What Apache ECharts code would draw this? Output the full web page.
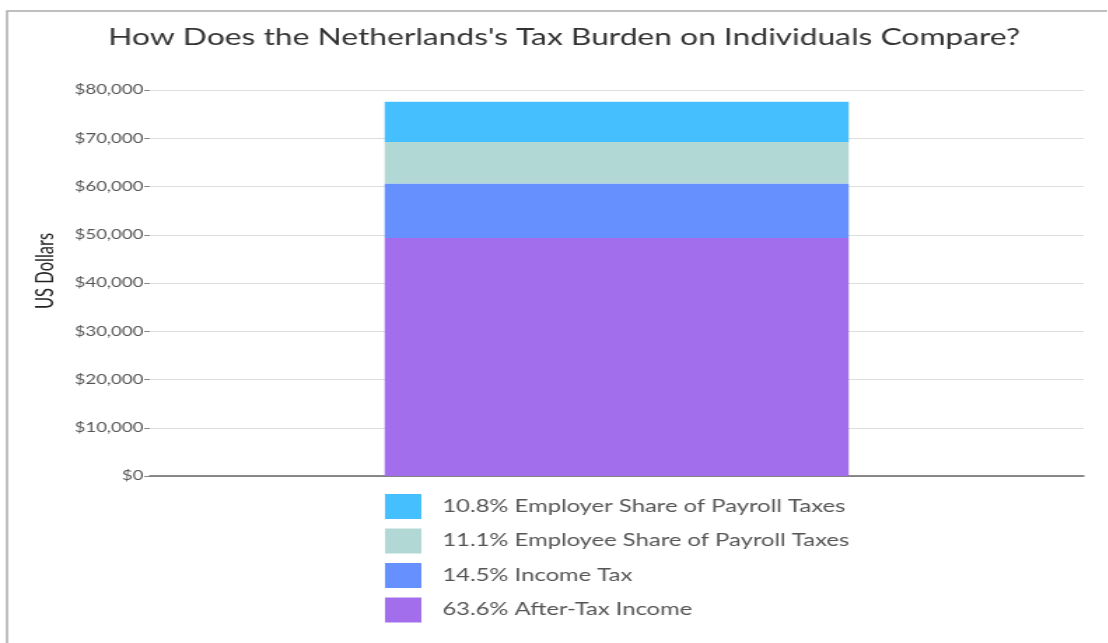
<!DOCTYPE html>
<html>
<head>
<meta charset="utf-8">
<script src="https://cdn.jsdelivr.net/npm/echarts@6/dist/echarts.min.js"></script>
<style>
  html, body { margin: 0; padding: 0; background: #fff; overflow: hidden; width: 1108px; height: 643px; }
  #chart { position: absolute; left: 0; top: 0; width: 791px; height: 643px; transform: scaleX(1.4); transform-origin: 0 0; }
</style>
</head>
<body>
<div id="chart"></div>
<script>
const categories = ['Netherlands'];
const seriesNames = [
  '63.6% After-Tax Income',
  '14.5% Income Tax',
  '11.1% Employee Share of Payroll Taxes',
  '10.8% Employer Share of Payroll Taxes'
];
const afterTaxIncome = [49350];
const incomeTax = [11250];
const employeeShare = [8610];
const employerShare = [8380];
const seriesValues = [afterTaxIncome, incomeTax, employeeShare, employerShare];
const seriesColors = ['#A36EEC', '#6690FD', '#B2D8D5', '#46BFFE'];
const legendOrder = [seriesNames[3], seriesNames[2], seriesNames[1], seriesNames[0]];

const chart = echarts.init(document.getElementById('chart'), null, { renderer: 'canvas' });
const font = 'Lato, "Open Sans", sans-serif';

chart.setOption({
  animation: false,
  title: {
    text: "How Does the Netherlands's Tax Burden on Individuals Compare?",
    left: 398,
    top: 21,
    textAlign: 'center',
    textStyle: { fontFamily: font, fontSize: 22.7, fontWeight: 'normal', color: '#333' }
  },
  graphic: [{
    type: 'rect',
    shape: { x: 5, y: 11, width: 1000, height: 800 },
    style: { fill: 'none', stroke: '#aaa', lineWidth: 1.5 },
    silent: true
  }, {
    type: 'text',
    x: 33,
    y: 271,
    rotation: Math.PI / 2,
    style: {
      text: 'US Dollars',
      fontFamily: font,
      fontSize: 16.5,
      fill: '#222',
      align: 'center',
      verticalAlign: 'middle'
    },
    silent: true
  }],
  legend: {
    data: legendOrder,
    orient: 'vertical',
    left: 270,
    top: 489,
    itemWidth: 26,
    itemHeight: 25,
    itemGap: 9.5,
    icon: 'rect',
    selectedMode: false,
    textStyle: { fontFamily: font, fontSize: 17, color: '#555', padding: [3, 0, 0, 10] }
  },
  grid: { left: 107, right: 17, top: 90, bottom: 167, containLabel: false },
  xAxis: {
    type: 'category',
    data: categories,
    axisLine: { show: true, lineStyle: { color: '#666', width: 1.5 } },
    axisTick: { show: false },
    axisLabel: { show: false },
    splitLine: { show: false }
  },
  yAxis: {
    type: 'value',
    min: 0,
    max: 80000,
    interval: 10000,
    axisLine: { show: false },
    axisTick: { show: true, length: 4, lineStyle: { color: '#888' } },
    axisLabel: {
      margin: 4.5,
      fontFamily: font,
      fontSize: 13.3,
      color: '#555',
      formatter: v => '$' + v.toLocaleString('en-US')
    },
    splitLine: { show: true, lineStyle: { color: '#ddd', width: 1 } }
  },
  series: seriesNames.map((name, i) => ({
    name: name,
    type: 'bar',
    stack: 'total',
    barWidth: '49.7%',
    data: seriesValues[i],
    itemStyle: { color: seriesColors[i] }
  }))
});
</script>
</body>
</html>
